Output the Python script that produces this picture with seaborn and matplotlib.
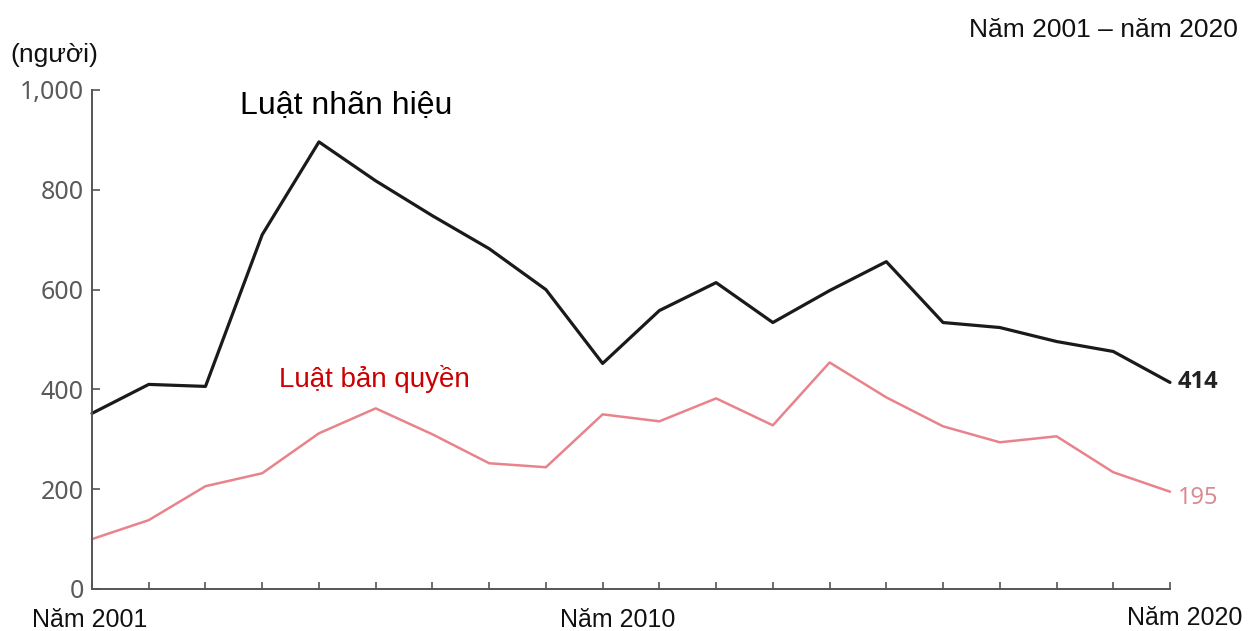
import pandas as pd
import matplotlib
matplotlib.use('Agg')
import matplotlib.pyplot as plt
import seaborn as sns

# Data
years = list(range(2001, 2021))
trademark = [352, 410, 406, 710, 896, 818, 748, 682, 600, 452,
             558, 614, 534, 598, 656, 534, 524, 496, 476, 414]
copyright_law = [100, 138, 206, 232, 312, 362, 310, 252, 244, 350,
                 336, 382, 328, 454, 384, 326, 294, 306, 234, 195]

df = pd.DataFrame({'year': years, 'trademark': trademark, 'copyright': copyright_law})

sns.set_theme(style='white')
plt.rcParams['font.family'] = ['Liberation Sans', 'DejaVu Sans']

fig = plt.figure(figsize=(12.49, 6.31), dpi=100)
ax = fig.add_axes([92 / 1249, 42 / 631, (1170 - 92) / 1249, (589 - 90) / 631])

sns.lineplot(data=df, x='year', y='trademark', ax=ax, color='#1a1a1a', linewidth=2.3, clip_on=False)
sns.lineplot(data=df, x='year', y='copyright', ax=ax, color='#e8838c', linewidth=1.8, clip_on=False)

ax.set_xlim(2001, 2020)
ax.set_ylim(0, 1000)
ax.set_xticks(years)
ax.set_xticklabels([])
ax.set_yticks([0, 200, 400, 600, 800, 1000])
ax.set_yticklabels(['0', '200', '400', '600', '800', '1,000'], fontsize=18, color='#5a5a5a',
                   family=['Noto Sans', 'DejaVu Sans'])
ax.tick_params(axis='both', direction='in', length=6, width=1.2, color='#555555', pad=6,
               bottom=True, left=True)
ax.tick_params(axis='x', length=5)
ax.set_xlabel('')
ax.set_ylabel('')
sns.despine(ax=ax)
for s in ['left', 'bottom']:
    ax.spines[s].set_color('#555555')
    ax.spines[s].set_linewidth(1.4)

# year labels under the axis
for yr, dx, dy in [(2001, -2, -31), (2010, 15, -31), (2020, 15, -29)]:
    ax.annotate(f'Năm {yr}', xy=(yr, 0), xytext=(dx, dy), textcoords='offset pixels',
                ha='center', va='center', fontsize=18, color='#111111', annotation_clip=False)

# end values
ax.annotate(str(trademark[-1]), xy=(2020, trademark[-1]), xytext=(8, 0), textcoords='offset pixels',
            ha='left', va='center', fontsize=17, fontweight='bold', color='#222222',
            family=['Open Sans', 'DejaVu Sans'], annotation_clip=False)
ax.annotate(str(copyright_law[-1]), xy=(2020, copyright_law[-1]), xytext=(8, -6), textcoords='offset pixels',
            ha='left', va='center', fontsize=17, color='#d98a92',
            family=['Noto Sans', 'DejaVu Sans'], annotation_clip=False)

# series names
ax.text(2003.6, 968, 'Luật nhãn hiệu', fontsize=23, color='#000000', ha='left', va='center')
ax.text(2004.3, 420, 'Luật bản quyền', fontsize=20, color='#cc0000', ha='left', va='center')

fig.text(10 / 1249, 1 - 55 / 631, '(người)', fontsize=19, color='#111111', ha='left', va='center')
fig.text(1238 / 1249, 1 - 30 / 631, 'Năm 2001 – năm 2020', fontsize=19, color='#111111',
         ha='right', va='center')

fig.savefig('out.png', dpi=100)
